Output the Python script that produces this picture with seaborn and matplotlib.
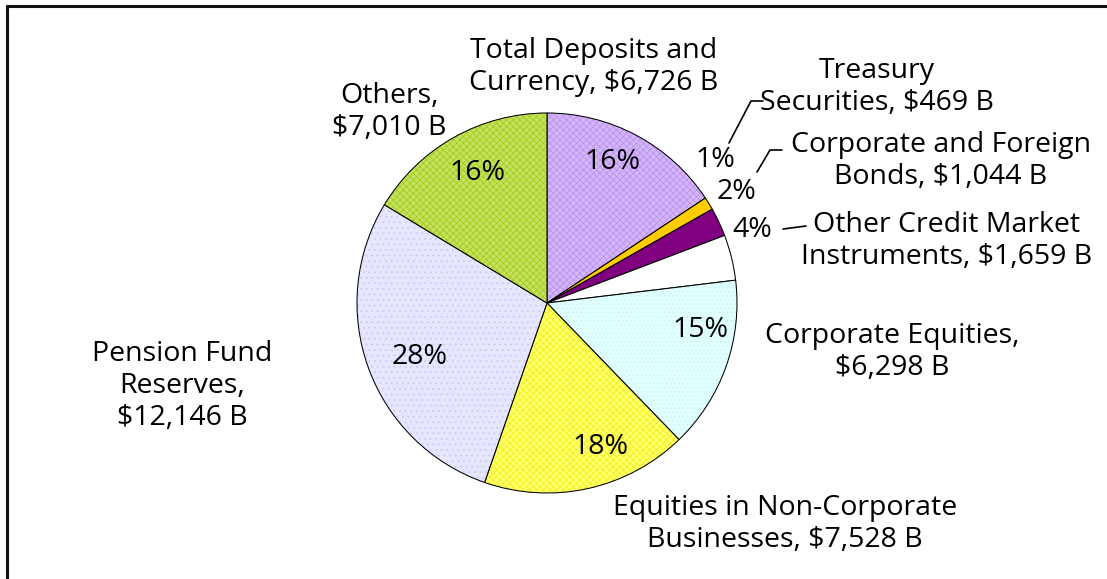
import numpy as np
import seaborn as sns
import matplotlib.pyplot as plt
from matplotlib.colors import to_rgba
from matplotlib.lines import Line2D

sns.set_theme(style="white")
plt.rcParams['font.family'] = ['Open Sans', 'DejaVu Sans']
plt.rcParams['hatch.linewidth'] = 0.45

# data (billions of dollars)
categories = ['Total Deposits and\nCurrency, $6,726 B',
              'Treasury\nSecurities, $469 B',
              'Corporate and Foreign\nBonds, $1,044 B',
              'Other Credit Market\nInstruments, $1,659 B',
              'Corporate Equities,\n$6,298 B',
              'Equities in Non-Corporate\nBusinesses, $7,528 B',
              'Pension Fund\nReserves,\n$12,146 B',
              'Others,\n$7,010 B']
values = [6726, 469, 1044, 1659, 6298, 7528, 12146, 7010]

face_colors = ['#d4b6f7', '#ffcc00', '#800080', '#ffffff',
               '#e2ffff', '#ffff70', '#e6e6ff', '#c4e063']
hatch_colors = ['#b48af0', '#ffcc00', '#800080', '#ffffff',
                '#c6f2f2', '#eeee00', '#c4c4fa', '#99cc00']
hatches = ['xxxxx', None, None, None, '....', 'xxxxx', '...', 'xxxxx']

W, H = 1107, 579
fig = plt.figure(figsize=(W / 100, H / 100), dpi=100)
ax = fig.add_axes([0, 0, 1, 1])


def P(x, y):
    # image pixel coords -> data coords
    return x, H - y


cx, cy = P(547, 303)
wedges, _ = ax.pie(values, startangle=90, counterclock=False,
                   center=(cx, cy), radius=190, frame=True,
                   wedgeprops=dict(edgecolor='black', linewidth=0.75))
ax.set_xlim(0, W)
ax.set_ylim(0, H)
ax.set_axis_off()
for w, fc, hc, h in zip(wedges, face_colors, hatch_colors, hatches):
    w.set_facecolor(fc)
    if h:
        w.set_hatch(h)
        w._hatch_color = to_rgba(hc)

fs = 20.5
total = sum(values)
pct = [f'{round(v / total * 100):.0f}%' for v in values]
pct_pos = [(612, 162), (715, 160), (737, 192), (752, 230),
           (700, 330), (600, 447), (420, 357), (477, 173)]
for t, (x, y) in zip(pct, pct_pos):
    ax.text(*P(x, y), t, ha='center', va='center', fontsize=fs, color='black')

label_pos = [(594, 67), (877, 87), (941, 161), (947, 241),
             (892, 352), (785, 524), (182, 386), (389, 112)]
for t, (x, y) in zip(categories, label_pos):
    ax.text(*P(x, y), t, ha='center', va='center', fontsize=fs,
            color='black', linespacing=1.2)

# leader lines
leaders = [[(729, 143), (751, 101), (763, 101)],
           [(757, 172), (770, 150), (782, 150)],
           [(783, 229), (806, 226)]]
for pts in leaders:
    xs = [p[0] for p in pts]
    ys = [H - p[1] for p in pts]
    ax.plot(xs, ys, color='black', linewidth=1.2)

# chart border (top and left visible)
fig.add_artist(Line2D([7 / W, 1], [1 - 6 / H, 1 - 6 / H], color='#111111',
                      linewidth=2.2, transform=fig.transFigure))
fig.add_artist(Line2D([7 / W, 7 / W], [0, 1 - 6 / H], color='#111111',
                      linewidth=2.2, transform=fig.transFigure))

fig.savefig('out.png', dpi=100)
